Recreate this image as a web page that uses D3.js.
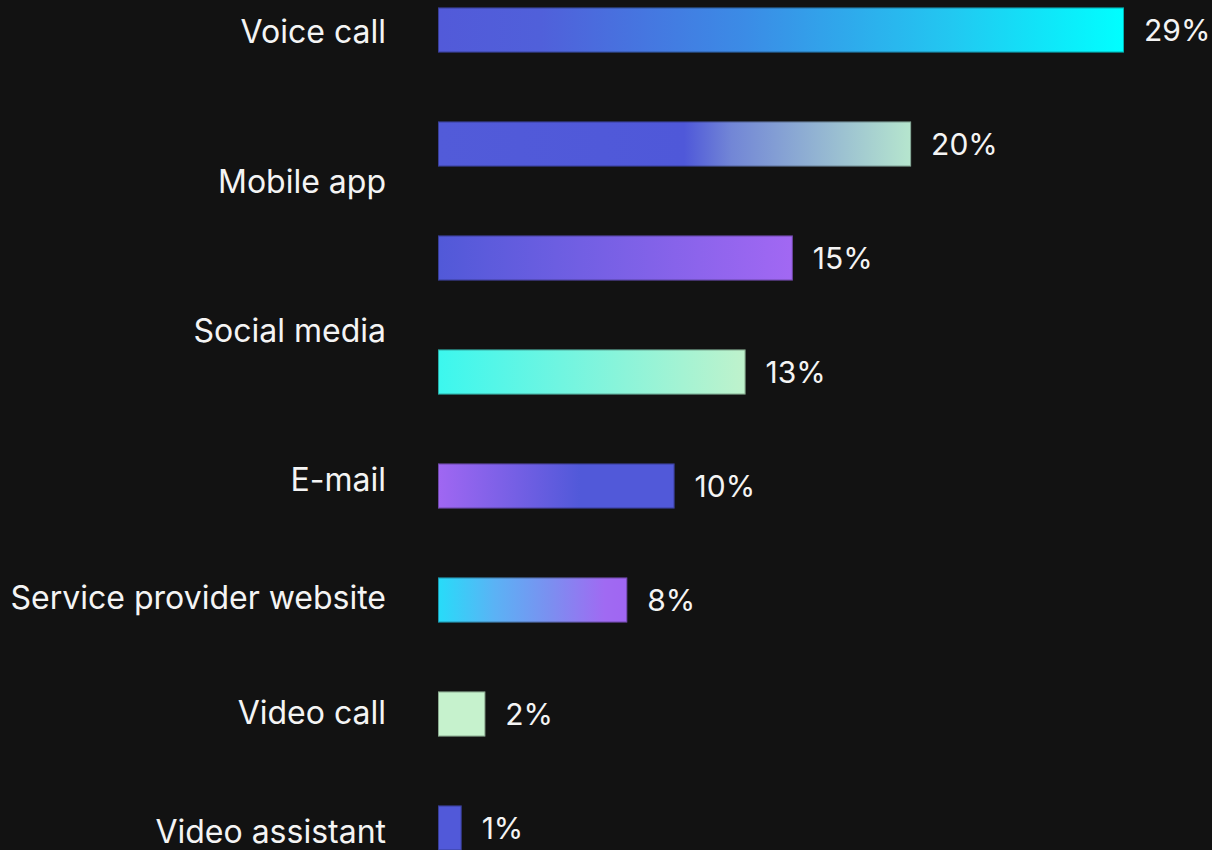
<!DOCTYPE html>
<html>
<head>
<meta charset="utf-8">
<script src="https://cdn.jsdelivr.net/npm/d3@7"></script>
<style>
  html, body { margin: 0; padding: 0; background: #121212; }
  svg { display: block; }
  text { font-family: Inter, "Noto Sans", sans-serif; fill: #f4f4f4; }
</style>
</head>
<body>
<svg id="chart" width="1212" height="850"></svg>
<script>
// Share of respondents by preferred contact channel
const barValues = [29, 20, 15, 13, 10, 8, 2, 1];
const barKeys = ["b0", "b1", "b2", "b3", "b4", "b5", "b6", "b7"];

// Channel names and the row (in bar-row units) each name sits on
const channelLabels = ["Voice call", "Mobile app", "Social media", "E-mail",
  "Service provider website", "Video call", "Video assistant"];
const channelRows = [0.007, 1.318, 2.625, 3.934, 4.972, 5.981, 7.025];

// Fill gradient per bar, left to right
const barGradients = [
  [[0, "#525ad9"], [0.15, "#5060da"], [0.45, "#3b8ce6"], [0.75, "#22c8f1"], [1, "#00ffff"]],
  [[0, "#525bd9"], [0.52, "#4f58d9"], [0.62, "#7286d6"], [1, "#b6e6ce"]],
  [[0, "#5159d8"], [1, "#a268f3"]],
  [[0, "#3cf7ee"], [1, "#bff2cc"]],
  [[0, "#a067f2"], [0.6, "#5159d9"], [1, "#5159d9"]],
  [[0, "#27dcf9"], [0.3, "#5bb2f5"], [0.6, "#7c8ef0"], [0.88, "#a06af2"], [1, "#a066f2"]],
  [[0, "#c6f2cd"], [1, "#c6f2cd"]],
  [[0, "#5159d9"], [1, "#5159d9"]]
];

const svg = d3.select("#chart");
const barHeight = 45;
const labelSize = 32;
const valueSize = 30;

const x = d3.scaleLinear().domain([0, 29]).range([438, 1124]);
const y = d3.scalePoint().domain(barKeys).range([30, 828]);
const row = d3.scaleLinear().domain([0, barKeys.length - 1]).range([30, 828]);

const defs = svg.append("defs");
barGradients.forEach((stops, i) => {
  const g = defs.append("linearGradient")
    .attr("id", "grad" + i)
    .attr("x1", "0%").attr("x2", "100%")
    .attr("y1", "0%").attr("y2", "0%");
  stops.forEach(([o, c]) => g.append("stop").attr("offset", o).attr("stop-color", c));
});

const bars = barKeys.map((k, i) => ({ key: k, value: barValues[i], idx: i }));

svg.append("g").selectAll("rect")
  .data(bars)
  .join("rect")
  .attr("x", x(0))
  .attr("y", d => y(d.key) - barHeight / 2)
  .attr("width", d => x(d.value) - x(0))
  .attr("height", barHeight)
  .attr("fill", d => `url(#grad${d.idx})`);

// thin darker outline around each bar
svg.append("g").selectAll("rect")
  .data(bars)
  .join("rect")
  .attr("x", x(0) + 0.5)
  .attr("y", d => y(d.key) - barHeight / 2 + 0.5)
  .attr("width", d => x(d.value) - x(0) - 1)
  .attr("height", barHeight - 1)
  .attr("fill", "none")
  .attr("stroke", "#000")
  .attr("stroke-opacity", 0.3)
  .attr("stroke-width", 1);

svg.append("g").selectAll("text")
  .data(bars)
  .join("text")
  .attr("x", d => x(d.value) + 20)
  .attr("y", d => y(d.key))
  .attr("dy", "0.38em")
  .attr("font-size", valueSize)
  .text(d => d.value + "%");

svg.append("g").selectAll("text")
  .data(channelLabels)
  .join("text")
  .attr("x", 386)
  .attr("y", (d, i) => row(channelRows[i]))
  .attr("dy", "0.39em")
  .attr("text-anchor", "end")
  .attr("font-size", labelSize)
  .text(d => d);
</script>
</body>
</html>
